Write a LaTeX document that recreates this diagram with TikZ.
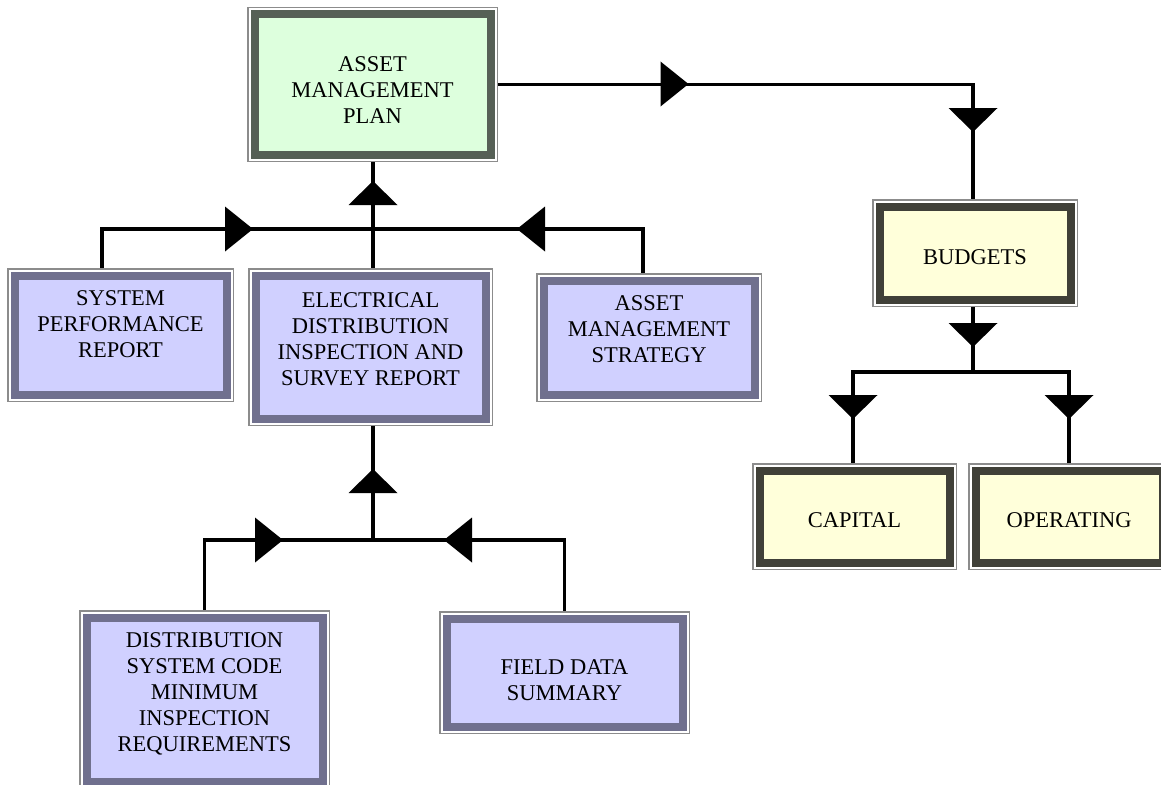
\documentclass[tikz,border=0pt]{standalone}
\usepackage{fontspec}
\setmainfont{Liberation Serif}
\pgfdeclarelayer{back}
\pgfsetlayers{back,main}
\definecolor{rimgray}{RGB}{140,140,140}
\definecolor{greenfill}{RGB}{221,255,221}
\definecolor{greenframe}{RGB}{86,96,86}
\definecolor{lavfill}{RGB}{208,208,255}
\definecolor{lavframe}{RGB}{112,112,142}
\definecolor{creamfill}{RGB}{255,255,218}
\definecolor{creamframe}{RGB}{64,64,56}
\tikzset{
  boxbase/.style={rectangle, inner sep=0pt, line width=8pt,
    preaction={draw=rimgray, line width=15pt},
    preaction={draw=white, line width=12pt}},
  planbox/.style={boxbase, draw=greenframe, fill=greenfill},
  reportbox/.style={boxbase, draw=lavframe, fill=lavfill},
  budgetbox/.style={boxbase, draw=creamframe, fill=creamfill},
  boxtext/.style={inner sep=0pt, align=center, font=\fontsize{22.5}{26}\selectfont},
  link/.style={line width=3.75pt, black},
  tri right/.pic={\fill (-14,-22.5) -- (14,0) -- (-14,22.5) -- cycle;},
  tri left/.pic={\fill (14,-22.5) -- (-14,0) -- (14,22.5) -- cycle;},
  tri up/.pic={\fill (-24.5,12) -- (0,-12) -- (24.5,12) -- cycle;},
  tri down/.pic={\fill (-24.5,-12) -- (0,12) -- (24.5,-12) -- cycle;},
}
\begin{document}
\begin{tikzpicture}[x=1pt, y=-1pt]
\useasboundingbox (0,0) rectangle (1161,784);

% boxes
\node[planbox, minimum width=236pt, minimum height=140pt] (amp) at (372.5,84.5) {};
\node[reportbox, minimum width=212pt, minimum height=119pt] (spr) at (120.5,335) {};
\node[reportbox, minimum width=230pt, minimum height=143pt] (edisr) at (370.5,347) {};
\node[reportbox, minimum width=211pt, minimum height=114pt] (ams) at (649,337.5) {};
\node[reportbox, minimum width=236pt, minimum height=164pt] (dsc) at (204.5,699.5) {};
\node[reportbox, minimum width=236pt, minimum height=108pt] (fds) at (564.5,672.5) {};
\node[budgetbox, minimum width=191pt, minimum height=93pt] (budgets) at (975,253) {};
\node[budgetbox, minimum width=190pt, minimum height=92pt] (capital) at (854.5,516.5) {};
\node[budgetbox, minimum width=187pt, minimum height=92pt] (operating) at (1069,516.5) {};

% box captions
\node[boxtext] (amp-label) at (372.5,90) {ASSET\\MANAGEMENT\\PLAN};
\node[boxtext] (spr-label) at (120.5,324) {SYSTEM\\PERFORMANCE\\REPORT};
\node[boxtext] (edisr-label) at (370.5,339) {ELECTRICAL\\DISTRIBUTION\\INSPECTION AND\\SURVEY REPORT};
\node[boxtext] (ams-label) at (649,329) {ASSET\\MANAGEMENT\\STRATEGY};
\node[boxtext] (dsc-label) at (204.5,694) {DISTRIBUTION\\SYSTEM CODE\\MINIMUM\\INSPECTION\\REQUIREMENTS};
\node[boxtext] (fds-label) at (564.5,680.5) {FIELD DATA\\SUMMARY};
\node[boxtext] (budgets-label) at (975,257) {BUDGETS};
\node[boxtext] (capital-label) at (854.5,520) {CAPITAL};
\node[boxtext] (operating-label) at (1069,520) {OPERATING};

% junctions
\coordinate (jA) at (373,229);
\coordinate (jB) at (373,540);
\coordinate (jC) at (973,372);

\begin{pgfonlayer}{back}
\fill[white] (0,0) rectangle (1161,784);
% reports feeding the plan
\draw[link] ([xshift=-18.5pt]spr.north) |- (jA);
\draw[link] ([xshift=-6pt]ams.north) |- (jA);
\draw[link] (jA |- edisr.north) -- (jA |- amp.south);
% inputs to the inspection report
\draw[link] (dsc.north) |- (jB);
\draw[link] (fds.north) |- (jB);
\draw[link] (jB) -- (jB |- edisr.south);
% plan to budgets
\draw[link] (amp.east) -| ([xshift=-2pt]budgets.north);
\draw[link] ([xshift=-2pt]budgets.south) -- (jC);
\draw[link] ([xshift=-1.5pt]capital.north) |- (jC) -| (operating.north);
\end{pgfonlayer}

% flow markers
\pic at (239,229) {tri right};
\pic at (531,229) {tri left};
\pic at (373,193) {tri up};
\pic at (269,540) {tri right};
\pic at (458,540) {tri left};
\pic at (373,481) {tri up};
\pic at (674.5,84) {tri right};
\pic at (973,120) {tri down};
\pic at (973,335) {tri down};
\pic at (853,407) {tri down};
\pic at (1069,407) {tri down};
\end{tikzpicture}
\end{document}
